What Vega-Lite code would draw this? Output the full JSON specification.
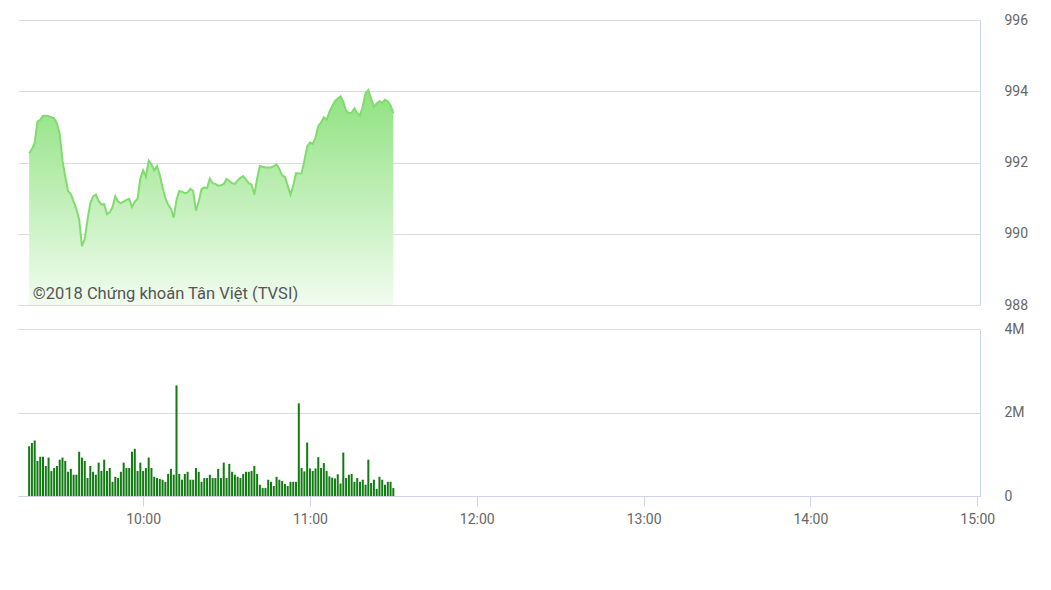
{
  "$schema": "https://vega.github.io/schema/vega-lite/v6.json",
  "padding": {"left": 18, "top": 13, "right": 0, "bottom": 0},
  "background": "white",
  "spacing": 10,
  "config": {
    "font": "Roboto",
    "view": {"stroke": null},
    "axis": {"labelFont": "Roboto", "labelFontSize": 14, "labelColor": "#666666"}
  },
  "datasets": {
    "note": [{"t": "2018-01-01T09:20:18", "p": 988.17, "label": "©2018 Chứng khoán Tân Việt (TVSI)"}],
    "ticks": [
      {"t":"2018-01-01T09:19:00","p":992.26,"v":1190000},{"t":"2018-01-01T09:20:00","p":992.38,"v":1270000},{"t":"2018-01-01T09:21:00","p":992.55,"v":1330000},
      {"t":"2018-01-01T09:22:00","p":993.15,"v":840000},{"t":"2018-01-01T09:23:00","p":993.20,"v":940000},{"t":"2018-01-01T09:24:00","p":993.31,"v":940000},
      {"t":"2018-01-01T09:25:00","p":993.31,"v":720000},{"t":"2018-01-01T09:26:00","p":993.30,"v":920000},{"t":"2018-01-01T09:27:00","p":993.27,"v":600000},
      {"t":"2018-01-01T09:28:00","p":993.24,"v":670000},{"t":"2018-01-01T09:29:00","p":993.10,"v":720000},{"t":"2018-01-01T09:30:00","p":992.80,"v":870000},
      {"t":"2018-01-01T09:31:00","p":992.05,"v":920000},{"t":"2018-01-01T09:32:00","p":991.60,"v":840000},{"t":"2018-01-01T09:33:00","p":991.20,"v":580000},
      {"t":"2018-01-01T09:34:00","p":991.11,"v":650000},{"t":"2018-01-01T09:35:00","p":990.90,"v":510000},{"t":"2018-01-01T09:36:00","p":990.70,"v":510000},
      {"t":"2018-01-01T09:37:00","p":990.40,"v":1060000},{"t":"2018-01-01T09:38:00","p":989.65,"v":920000},{"t":"2018-01-01T09:39:00","p":989.85,"v":840000},
      {"t":"2018-01-01T09:40:00","p":990.40,"v":430000},{"t":"2018-01-01T09:41:00","p":990.85,"v":720000},{"t":"2018-01-01T09:42:00","p":991.05,"v":580000},
      {"t":"2018-01-01T09:43:00","p":991.10,"v":510000},{"t":"2018-01-01T09:44:00","p":990.92,"v":800000},{"t":"2018-01-01T09:45:00","p":990.82,"v":600000},
      {"t":"2018-01-01T09:46:00","p":990.83,"v":870000},{"t":"2018-01-01T09:47:00","p":990.55,"v":600000},{"t":"2018-01-01T09:48:00","p":990.60,"v":670000},
      {"t":"2018-01-01T09:49:00","p":990.75,"v":340000},{"t":"2018-01-01T09:50:00","p":991.05,"v":460000},{"t":"2018-01-01T09:51:00","p":990.90,"v":430000},
      {"t":"2018-01-01T09:52:00","p":990.86,"v":580000},{"t":"2018-01-01T09:53:00","p":990.90,"v":800000},{"t":"2018-01-01T09:54:00","p":990.95,"v":670000},
      {"t":"2018-01-01T09:55:00","p":990.98,"v":670000},{"t":"2018-01-01T09:56:00","p":990.75,"v":1060000},{"t":"2018-01-01T09:57:00","p":990.90,"v":1130000},
      {"t":"2018-01-01T09:58:00","p":990.98,"v":600000},{"t":"2018-01-01T09:59:00","p":991.55,"v":800000},{"t":"2018-01-01T10:00:00","p":991.78,"v":600000},
      {"t":"2018-01-01T10:01:00","p":991.60,"v":670000},{"t":"2018-01-01T10:02:00","p":992.05,"v":920000},{"t":"2018-01-01T10:03:00","p":991.95,"v":670000},
      {"t":"2018-01-01T10:04:00","p":991.78,"v":460000},{"t":"2018-01-01T10:05:00","p":991.90,"v":430000},{"t":"2018-01-01T10:06:00","p":991.65,"v":410000},
      {"t":"2018-01-01T10:07:00","p":991.30,"v":390000},{"t":"2018-01-01T10:08:00","p":991.00,"v":340000},{"t":"2018-01-01T10:09:00","p":990.82,"v":530000},
      {"t":"2018-01-01T10:10:00","p":990.70,"v":650000},{"t":"2018-01-01T10:11:00","p":990.45,"v":510000},{"t":"2018-01-01T10:12:00","p":990.95,"v":2650000},
      {"t":"2018-01-01T10:13:00","p":991.20,"v":530000},{"t":"2018-01-01T10:14:00","p":991.18,"v":390000},{"t":"2018-01-01T10:15:00","p":991.14,"v":530000},
      {"t":"2018-01-01T10:16:00","p":991.16,"v":580000},{"t":"2018-01-01T10:17:00","p":991.26,"v":390000},{"t":"2018-01-01T10:18:00","p":991.20,"v":390000},
      {"t":"2018-01-01T10:19:00","p":990.65,"v":670000},{"t":"2018-01-01T10:20:00","p":990.90,"v":580000},{"t":"2018-01-01T10:21:00","p":991.25,"v":340000},
      {"t":"2018-01-01T10:22:00","p":991.30,"v":430000},{"t":"2018-01-01T10:23:00","p":991.28,"v":430000},{"t":"2018-01-01T10:24:00","p":991.55,"v":510000},
      {"t":"2018-01-01T10:25:00","p":991.42,"v":430000},{"t":"2018-01-01T10:26:00","p":991.40,"v":430000},{"t":"2018-01-01T10:27:00","p":991.35,"v":650000},
      {"t":"2018-01-01T10:28:00","p":991.36,"v":430000},{"t":"2018-01-01T10:29:00","p":991.40,"v":800000},{"t":"2018-01-01T10:30:00","p":991.54,"v":430000},
      {"t":"2018-01-01T10:31:00","p":991.48,"v":770000},{"t":"2018-01-01T10:32:00","p":991.42,"v":580000},{"t":"2018-01-01T10:33:00","p":991.40,"v":510000},
      {"t":"2018-01-01T10:34:00","p":991.50,"v":460000},{"t":"2018-01-01T10:35:00","p":991.57,"v":430000},{"t":"2018-01-01T10:36:00","p":991.62,"v":530000},
      {"t":"2018-01-01T10:37:00","p":991.52,"v":580000},{"t":"2018-01-01T10:38:00","p":991.42,"v":580000},{"t":"2018-01-01T10:39:00","p":991.38,"v":600000},
      {"t":"2018-01-01T10:40:00","p":991.10,"v":720000},{"t":"2018-01-01T10:41:00","p":991.55,"v":530000},{"t":"2018-01-01T10:42:00","p":991.90,"v":270000},
      {"t":"2018-01-01T10:43:00","p":991.88,"v":190000},{"t":"2018-01-01T10:44:00","p":991.86,"v":190000},{"t":"2018-01-01T10:45:00","p":991.86,"v":390000},
      {"t":"2018-01-01T10:46:00","p":991.86,"v":340000},{"t":"2018-01-01T10:47:00","p":991.90,"v":240000},{"t":"2018-01-01T10:48:00","p":991.95,"v":460000},
      {"t":"2018-01-01T10:49:00","p":991.82,"v":390000},{"t":"2018-01-01T10:50:00","p":991.64,"v":360000},{"t":"2018-01-01T10:51:00","p":991.60,"v":290000},
      {"t":"2018-01-01T10:52:00","p":991.35,"v":240000},{"t":"2018-01-01T10:53:00","p":991.10,"v":340000},{"t":"2018-01-01T10:54:00","p":991.35,"v":340000},
      {"t":"2018-01-01T10:55:00","p":991.70,"v":340000},{"t":"2018-01-01T10:56:00","p":991.69,"v":2220000},{"t":"2018-01-01T10:57:00","p":991.70,"v":670000},
      {"t":"2018-01-01T10:58:00","p":992.05,"v":590000},{"t":"2018-01-01T10:59:00","p":992.45,"v":1280000},{"t":"2018-01-01T11:00:00","p":992.56,"v":660000},
      {"t":"2018-01-01T11:01:00","p":992.52,"v":600000},{"t":"2018-01-01T11:02:00","p":992.70,"v":660000},{"t":"2018-01-01T11:03:00","p":993.02,"v":930000},
      {"t":"2018-01-01T11:04:00","p":993.13,"v":670000},{"t":"2018-01-01T11:05:00","p":993.27,"v":790000},{"t":"2018-01-01T11:06:00","p":993.20,"v":600000},
      {"t":"2018-01-01T11:07:00","p":993.42,"v":470000},{"t":"2018-01-01T11:08:00","p":993.58,"v":440000},{"t":"2018-01-01T11:09:00","p":993.72,"v":420000},
      {"t":"2018-01-01T11:10:00","p":993.80,"v":520000},{"t":"2018-01-01T11:11:00","p":993.86,"v":300000},{"t":"2018-01-01T11:12:00","p":993.70,"v":1040000},
      {"t":"2018-01-01T11:13:00","p":993.46,"v":430000},{"t":"2018-01-01T11:14:00","p":993.38,"v":510000},{"t":"2018-01-01T11:15:00","p":993.40,"v":530000},
      {"t":"2018-01-01T11:16:00","p":993.52,"v":340000},{"t":"2018-01-01T11:17:00","p":993.38,"v":430000},{"t":"2018-01-01T11:18:00","p":993.32,"v":340000},
      {"t":"2018-01-01T11:19:00","p":993.58,"v":390000},{"t":"2018-01-01T11:20:00","p":993.95,"v":270000},{"t":"2018-01-01T11:21:00","p":994.03,"v":870000},
      {"t":"2018-01-01T11:22:00","p":993.80,"v":310000},{"t":"2018-01-01T11:23:00","p":993.56,"v":390000},{"t":"2018-01-01T11:24:00","p":993.66,"v":170000},
      {"t":"2018-01-01T11:25:00","p":993.72,"v":460000},{"t":"2018-01-01T11:26:00","p":993.68,"v":390000},{"t":"2018-01-01T11:27:00","p":993.76,"v":270000},
      {"t":"2018-01-01T11:28:00","p":993.72,"v":340000},{"t":"2018-01-01T11:29:00","p":993.60,"v":340000},{"t":"2018-01-01T11:30:00","p":993.38,"v":190000}
    ]
  },
  "vconcat": [
    {
      "width": 962,
      "height": 285,
      "layer": [
        {
          "data": {"name": "ticks"},
          "mark": {
            "type": "area",
            "clip": true,
            "color": {"gradient": "linear", "x1": 0, "y1": 0, "x2": 0, "y2": 1,
              "stops": [{"offset": 0, "color": "#8fe280"}, {"offset": 1, "color": "#f1fcef"}]}
          },
          "encoding": {
            "x": {
              "field": "t", "type": "temporal",
              "scale": {"domain": [{"year":2018,"month":1,"date":1,"hours":9,"minutes":15},{"year":2018,"month":1,"date":1,"hours":15,"minutes":1}], "padding": 0},
              "axis": null
            },
            "y": {
              "field": "p", "type": "quantitative",
              "scale": {"domain": [988, 996], "zero": false},
              "axis": {"orient": "right", "title": null, "values": [988, 990, 992, 994, 996], "format": "d", "grid": true, "gridColor": "#dcdcdc", "domainColor": "#ccd6eb", "ticks": false, "tickSize": 0, "labelPadding": 24}
            },
            "y2": {"datum": 988}
          }
        },
        {
          "data": {"name": "ticks"},
          "mark": {"type": "line", "color": "#80dc6e", "strokeWidth": 2},
          "encoding": {
            "x": {"field": "t", "type": "temporal"},
            "y": {"field": "p", "type": "quantitative"}
          }
        },
        {
          "data": {"name": "note"},
          "mark": {"type": "text", "align": "left", "baseline": "alphabetic", "fontSize": 16.5, "color": "#555555"},
          "encoding": {
            "x": {"field": "t", "type": "temporal"},
            "y": {"field": "p", "type": "quantitative"},
            "text": {"field": "label"}
          }
        }
      ]
    },
    {
      "width": 962,
      "height": 167,
      "data": {"name": "ticks"},
      "mark": {"type": "bar", "size": 2, "color": "#127a12"},
      "encoding": {
        "x": {
          "field": "t", "type": "temporal", "title": null,
          "scale": {"domain": [{"year":2018,"month":1,"date":1,"hours":9,"minutes":15},{"year":2018,"month":1,"date":1,"hours":15,"minutes":1}], "padding": 0},
          "axis": {"format": "%H:%M", "values": [{"year":2018,"month":1,"date":1,"hours":10},{"year":2018,"month":1,"date":1,"hours":11},{"year":2018,"month":1,"date":1,"hours":12},{"year":2018,"month":1,"date":1,"hours":13},{"year":2018,"month":1,"date":1,"hours":14},{"year":2018,"month":1,"date":1,"hours":15}], "grid": false, "domainColor": "#ccd6eb", "tickColor": "#ccd6eb", "tickSize": 10, "labelPadding": 6, "labelFlush": false}
        },
        "y": {
          "field": "v", "type": "quantitative", "title": null,
          "scale": {"domain": [0, 4000000]},
          "axis": {"orient": "right", "values": [0, 2000000, 4000000], "labelExpr": "datum.value === 0 ? '0' : format(datum.value, '~s')", "grid": true, "gridColor": "#dcdcdc", "domainColor": "#ccd6eb", "ticks": false, "tickSize": 0, "labelPadding": 24}
        }
      }
    }
  ]
}
